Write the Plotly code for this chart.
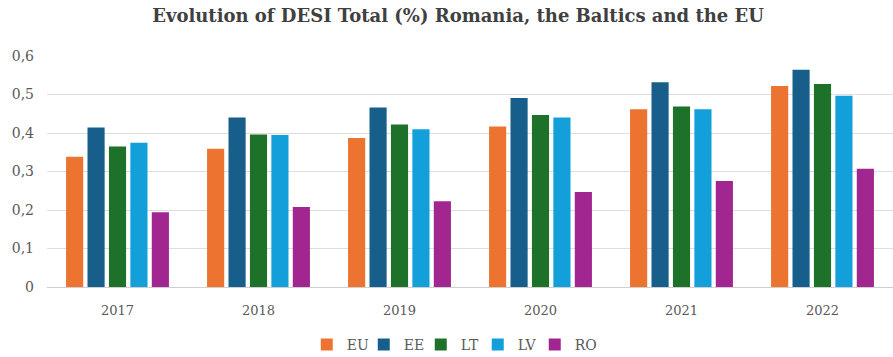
import plotly.graph_objects as go

years = ["2017", "2018", "2019", "2020", "2021", "2022"]
eu = [0.338, 0.359, 0.387, 0.417, 0.462, 0.522]
ee = [0.414, 0.440, 0.466, 0.491, 0.532, 0.564]
lt = [0.365, 0.396, 0.422, 0.447, 0.469, 0.527]
lv = [0.375, 0.395, 0.410, 0.440, 0.462, 0.497]
ro = [0.194, 0.208, 0.223, 0.247, 0.275, 0.307]

series = [
    ("EU", eu, "#EC7430"),
    ("EE", ee, "#175F8A"),
    ("LT", lt, "#1D7128"),
    ("LV", lv, "#139FD9"),
    ("RO", ro, "#A1268F"),
]

fig = go.Figure()
for name, vals, color in series:
    fig.add_trace(go.Bar(x=years, y=vals, name=name, marker=dict(color=color, line=dict(width=0))))

# blank trailing legend slot so the compact legend leaves room for the last label
fig.add_trace(go.Scatter(x=[None], y=[None], mode="markers", name=" ",
                         marker=dict(color="rgba(0,0,0,0)", size=1,
                                     line=dict(width=0, color="rgba(0,0,0,0)")),
                         hoverinfo="skip"))

font_family = "DejaVu Serif, Liberation Serif, serif"
fig.update_layout(
    width=893,
    height=357,
    margin=dict(l=47, r=0, t=56, b=70),
    paper_bgcolor="white",
    plot_bgcolor="white",
    separators=",.",
    barmode="group",
    bargap=0.24,
    bargroupgap=0.2,
    title=dict(
        text="<b>Evolution of DESI Total (%) Romania, the Baltics and the EU</b>",
        x=0.513,
        xref="container",
        xanchor="center",
        y=0.955,
        yanchor="middle",
        font=dict(family=font_family, size=18, color="#404040"),
    ),
    font=dict(family=font_family, color="#595959"),
    xaxis=dict(
        showgrid=False,
        showline=False,
        ticks="",
        ticklabelstandoff=14,
        tickfont=dict(family=font_family, size=13, color="#595959"),
    ),
    yaxis=dict(
        range=[0, 0.6],
        dtick=0.1,
        tickformat=".1~f",
        showgrid=True,
        gridcolor="#dedede",
        gridwidth=1,
        zeroline=True,
        zerolinecolor="#cfcfcf",
        zerolinewidth=1,
        ticks="",
        ticklabelstandoff=12,
        tickfont=dict(family=font_family, size=14, color="#595959"),
    ),
    legend=dict(
        orientation="h",
        x=0.535,
        xref="container",
        xanchor="center",
        y=0.034,
        yref="container",
        yanchor="middle",
        itemwidth=30,
        entrywidth=12,
        entrywidthmode="pixels",
        font=dict(family=font_family, size=14, color="#595959"),
        traceorder="normal",
    ),
)

fig.write_html("out.html")
